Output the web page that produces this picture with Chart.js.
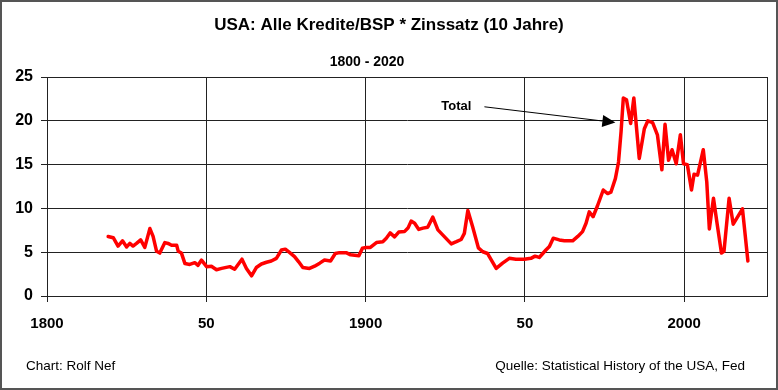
<!DOCTYPE html>
<html>
<head>
<meta charset="utf-8">
<script src="https://cdn.jsdelivr.net/npm/chart.js@4.4.0/dist/chart.umd.min.js"></script>
<style>
    body { margin: 0; background: #fff; }
    canvas { display: block; }
</style>
</head>
<body>
<canvas id="kreditChart" width="778" height="390"></canvas>
<script>
// values (year, Kredite/BSP * Zins)
var years = [
    1819.2, 1820.8, 1822.3, 1823.7, 1825.0, 1826.0, 1827.0, 1828.1, 1829.4, 1830.7,
    1832.3, 1833.3, 1834.4, 1835.4, 1837.0, 1838.0, 1839.1, 1840.7, 1841.2, 1842.2,
    1843.3, 1844.8, 1846.4, 1847.4, 1848.5, 1850.1, 1851.6, 1853.2, 1854.8, 1857.4,
    1858.9, 1861.2, 1862.6, 1864.2, 1865.7, 1867.3, 1868.9, 1870.4, 1872.0, 1873.6,
    1874.8, 1876.2, 1877.7, 1879.0, 1880.3, 1882.4, 1884.0, 1885.6, 1887.1, 1889.0,
    1890.5, 1891.8, 1893.9, 1895.3, 1897.9, 1899.0, 1900.2, 1901.5, 1903.4, 1905.4,
    1906.5, 1907.7, 1909.1, 1910.4, 1912.2, 1913.3, 1914.3, 1915.4, 1916.7, 1918.0,
    1919.5, 1921.1, 1922.7, 1924.8, 1926.9, 1928.5, 1930.0, 1931.0, 1932.1, 1933.6,
    1935.4, 1936.8, 1938.3, 1941.0, 1943.0, 1945.1, 1947.2, 1949.8, 1951.9, 1953.2,
    1954.5, 1956.6, 1957.7, 1958.9, 1960.8, 1962.4, 1965.0, 1966.6, 1968.1, 1969.2,
    1970.2, 1971.4, 1972.8, 1974.6, 1976.0, 1977.0, 1978.4, 1979.4, 1980.2, 1980.9,
    1981.9, 1983.2, 1984.2, 1985.9, 1987.5, 1988.6, 1990.1, 1991.6, 1993.0, 1994.0,
    1995.1, 1996.2, 1997.5, 1998.8, 1999.8, 2001.0, 2002.3, 2003.1, 2004.2, 2006.0,
    2007.1, 2007.9, 2009.2, 2010.4, 2011.7, 2012.5, 2014.1, 2015.4, 2018.3, 2020.0
];
var values = [
    6.8, 6.65, 5.7, 6.3, 5.6, 6.0, 5.7, 6.0, 6.4, 5.55,
    7.7, 6.8, 5.1, 4.9, 6.1, 6.0, 5.8, 5.8, 5.1, 4.9,
    3.7, 3.6, 3.8, 3.5, 4.1, 3.35, 3.4, 3.0, 3.15, 3.35,
    3.05, 4.2, 3.15, 2.3, 3.25, 3.65, 3.85, 4.0, 4.3, 5.25,
    5.35, 4.95, 4.5, 3.9, 3.25, 3.15, 3.4, 3.75, 4.1, 4.0,
    4.85, 4.95, 4.95, 4.7, 4.6, 5.45, 5.55, 5.55, 6.1, 6.2,
    6.6, 7.2, 6.75, 7.3, 7.35, 7.75, 8.55, 8.3, 7.6, 7.75,
    7.85, 9.0, 7.55, 6.75, 5.95, 6.2, 6.45, 7.15, 9.75, 7.9,
    5.5, 5.05, 4.85, 3.15, 3.75, 4.3, 4.2, 4.2, 4.3, 4.55,
    4.4, 5.25, 5.65, 6.6, 6.4, 6.3, 6.3, 6.8, 7.35, 8.3,
    9.6, 9.05, 10.3, 12.1, 11.7, 11.85, 13.4, 15.3, 18.8, 22.6,
    22.4, 19.7, 22.6, 15.7, 19.1, 20.0, 19.8, 18.4, 14.4, 19.6,
    15.5, 16.7, 15.1, 18.4, 15.1, 15.0, 12.1, 13.9, 13.8, 16.7,
    13.0, 7.65, 11.15, 8.1, 4.9, 5.1, 11.15, 8.2, 9.95, 4.0
];

var xTicks = [1800, 1850, 1900, 1950, 2000];
var xTickLabels = ['1800', '50', '1900', '50', '2000'];
var yTicks = [0, 5, 10, 15, 20, 25];

var titleText = 'USA: Alle Kredite/BSP * Zinssatz (10 Jahre)';
var subtitleText = '1800 - 2020';
var leftNote = 'Chart: Rolf Nef';
var rightNote = 'Quelle: Statistical History of the USA, Fed';

// "Total" label and arrow, in data units
var labelAt = [1928.5, 21.6];
var arrowFrom = [1937.3, 21.6];
var arrowTo = [1978.4, 19.8];

var fontFamily = '"Liberation Sans", Arial, sans-serif';

var decorations = {
    id: 'decorations',
    beforeDraw: function (chart) {
        var ctx = chart.ctx;
        ctx.save();
        ctx.fillStyle = '#fff';
        ctx.fillRect(0, 0, chart.width, chart.height);
        ctx.restore();
    },
    afterDraw: function (chart) {
        var ctx = chart.ctx;
        var a = chart.chartArea;
        var x = chart.scales.x;
        var y = chart.scales.y;
        ctx.save();

        // plot frame
        ctx.strokeStyle = '#222';
        ctx.lineWidth = 1;
        ctx.strokeRect(Math.round(a.left) + 0.5, Math.round(a.top) + 0.5,
            Math.round(a.right - a.left), Math.round(a.bottom - a.top));

        // outer frame
        ctx.strokeStyle = '#555';
        ctx.lineWidth = 2;
        ctx.strokeRect(1, 1, chart.width - 2, chart.height - 2);

        ctx.fillStyle = '#000';
        ctx.textBaseline = 'middle';

        ctx.textAlign = 'center';
        ctx.font = 'bold 17px ' + fontFamily;
        ctx.fillText(titleText, 389, 25);
        ctx.font = 'bold 14px ' + fontFamily;
        ctx.fillText(subtitleText, 367, 62);

        ctx.font = '13.5px ' + fontFamily;
        ctx.textAlign = 'left';
        ctx.fillText(leftNote, 26, 366);
        ctx.textAlign = 'right';
        ctx.fillText(rightNote, 745, 366);

        // Total + arrow
        ctx.font = 'bold 13px ' + fontFamily;
        ctx.textAlign = 'center';
        ctx.fillText('Total', x.getPixelForValue(labelAt[0]), y.getPixelForValue(labelAt[1]));

        var x1 = x.getPixelForValue(arrowFrom[0]), y1 = y.getPixelForValue(arrowFrom[1]);
        var x2 = x.getPixelForValue(arrowTo[0]), y2 = y.getPixelForValue(arrowTo[1]);
        var ang = Math.atan2(y2 - y1, x2 - x1);
        var headLen = 13, headHalf = 6;
        var bx = x2 - headLen * Math.cos(ang), by = y2 - headLen * Math.sin(ang);
        ctx.strokeStyle = '#000';
        ctx.lineWidth = 1;
        ctx.beginPath();
        ctx.moveTo(x1, y1);
        ctx.lineTo(bx, by);
        ctx.stroke();
        ctx.beginPath();
        ctx.moveTo(x2, y2);
        ctx.lineTo(bx + headHalf * Math.sin(ang), by - headHalf * Math.cos(ang));
        ctx.lineTo(bx - headHalf * Math.sin(ang), by + headHalf * Math.cos(ang));
        ctx.closePath();
        ctx.fillStyle = '#000';
        ctx.fill();

        ctx.restore();
    }
};

function draw() {
    var points = years.map(function (yr, i) { return { x: yr, y: values[i] }; });

    new Chart(document.getElementById('kreditChart'), {
        type: 'line',
        data: {
            datasets: [{
                label: 'Total',
                data: points,
                borderColor: '#ff0000',
                borderWidth: 3.5,
                borderJoinStyle: 'round',
                borderCapStyle: 'round',
                pointRadius: 0,
                tension: 0,
                fill: false
            }]
        },
        options: {
            responsive: false,
            animation: false,
            devicePixelRatio: 1,
            layout: { padding: { left: 0, top: 77, right: 11, bottom: 54 } },
            plugins: {
                legend: { display: false },
                title: { display: false },
                tooltip: { enabled: false }
            },
            scales: {
                x: {
                    type: 'linear',
                    min: 1800,
                    max: 2026,
                    afterBuildTicks: function (s) {
                        s.ticks = xTicks.map(function (v) { return { value: v }; });
                    },
                    afterFit: function (s) { s.height = 40; },
                    ticks: {
                        autoSkip: false,
                        maxRotation: 0,
                        padding: 13,
                        color: '#000',
                        font: { family: fontFamily, size: 15, weight: 'bold' },
                        callback: function (v) { return xTickLabels[xTicks.indexOf(v)]; }
                    },
                    grid: { color: '#222', lineWidth: 1, tickLength: 6 },
                    border: { color: '#222', width: 1 }
                },
                y: {
                    min: 0,
                    max: 25,
                    afterBuildTicks: function (s) {
                        s.ticks = yTicks.map(function (v) { return { value: v }; });
                    },
                    afterFit: function (s) { s.width = 47; },
                    ticks: {
                        padding: 8,
                        color: '#000',
                        font: { family: fontFamily, size: 16, weight: 'bold' }
                    },
                    grid: { color: '#222', lineWidth: 1, tickLength: 6 },
                    border: { color: '#222', width: 1 }
                }
            }
        },
        plugins: [decorations]
    });
}

draw();
</script>
</body>
</html>
